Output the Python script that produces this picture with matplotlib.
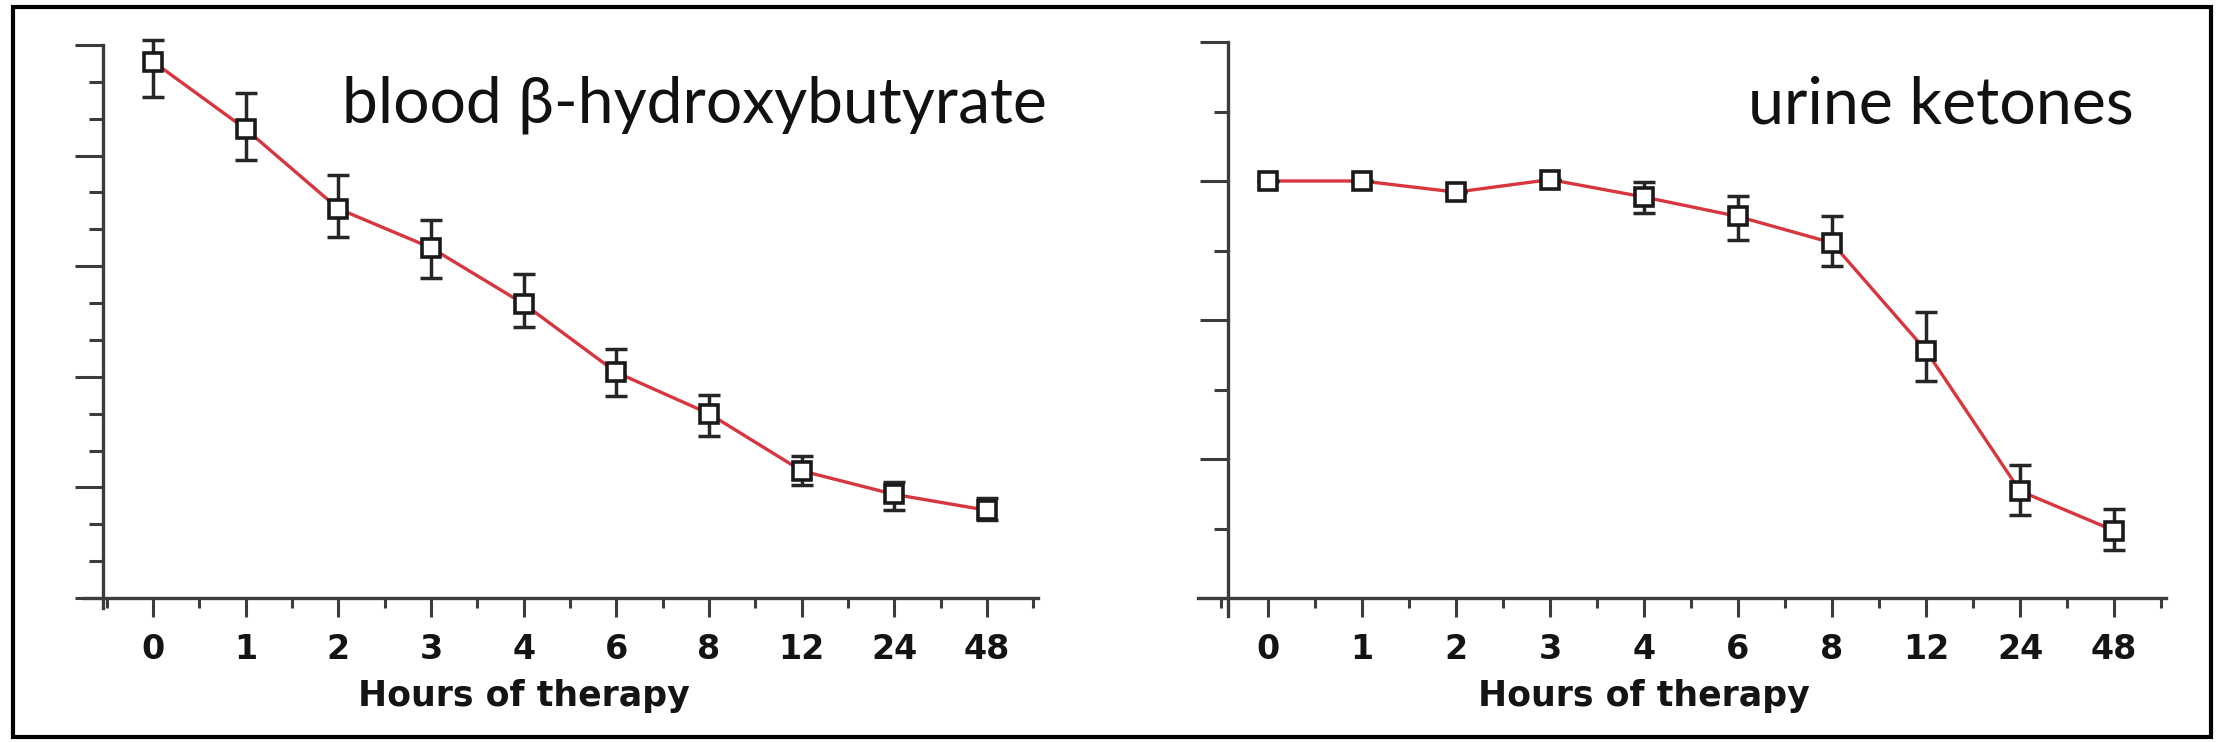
import matplotlib
matplotlib.use("Agg")
import matplotlib.pyplot as plt
from matplotlib.patches import Rectangle
from matplotlib.ticker import FixedLocator, MultipleLocator

# ---------------- data ----------------
hour_labels = ["0", "1", "2", "3", "4", "6", "8", "12", "24", "48"]
bhb_mean = [14.55, 12.72, 10.56, 9.50, 7.98, 6.12, 5.00, 3.45, 2.81, 2.38]
bhb_err_low = [0.97, 0.85, 0.77, 0.81, 0.64, 0.65, 0.60, 0.39, 0.43, 0.26]
bhb_err_high = [0.58, 0.99, 0.92, 0.76, 0.80, 0.64, 0.51, 0.41, 0.34, 0.32]
ket_mean = [6.00, 6.00, 5.84, 6.02, 5.77, 5.49, 5.11, 3.56, 1.54, 0.97]
ket_err_low = [0.0, 0.0, 0.0, 0.0, 0.23, 0.34, 0.34, 0.44, 0.35, 0.28]
ket_err_high = [0.0, 0.0, 0.0, 0.0, 0.22, 0.30, 0.38, 0.56, 0.37, 0.31]
titles = ["blood β-hydroxybutyrate", "urine ketones"]
xlabel = "Hours of therapy"

W, H = 2219, 743
fig = plt.figure(figsize=(W / 100, H / 100), dpi=100, facecolor="white")
renderer = fig.canvas.get_renderer()

def rect_from_px(x0, x1, ytop, ybot):
    return [x0 / W, (H - ybot) / H, (x1 - x0) / W, (ybot - ytop) / H]

AX_COL = "#3c3c3c"
RED = "#d8363f"
TITLE_FAMILY = ["Lato", "DejaVu Sans"]

panels = [
    dict(mean=bhb_mean, err=[bhb_err_low, bhb_err_high], ymax=15, ymaj=3,
         ylim=(-0.3, 15.6), px0=153, px9=987, py0=598, pytop=45, yaxis_x=-0.54,
         title=titles[0], title_left=342, title_right=1047),
    dict(mean=ket_mean, err=[ket_err_low, ket_err_high], ymax=8, ymaj=2,
         ylim=(-0.3, 8.3), px0=1268, px9=2114, py0=598, pytop=42, yaxis_x=-0.43,
         title=titles[1], title_left=1748, title_right=2134),
]

xlim = (-0.8, 9.6)
for p in panels:
    sx = (p["px9"] - p["px0"]) / 9.0
    sy = (p["py0"] - p["pytop"]) / p["ymax"]
    x0 = p["px0"] + xlim[0] * sx
    x1 = p["px0"] + xlim[1] * sx
    ytop = p["py0"] - p["ylim"][1] * sy
    ybot = p["py0"] - p["ylim"][0] * sy
    ax = fig.add_axes(rect_from_px(x0, x1, ytop, ybot))
    ax.set_xlim(*xlim)
    ax.set_ylim(*p["ylim"])
    ax.set_facecolor("none")

    xs = list(range(len(hour_labels)))
    ax.errorbar(xs, p["mean"], yerr=p["err"], fmt="none", ecolor="#262626",
                elinewidth=2.5, capsize=8, capthick=2.5, zorder=3)
    ax.plot(xs, p["mean"], color=RED, lw=2.4, zorder=2)
    ax.plot(xs, p["mean"], ls="none", marker="s", ms=13, mfc="white",
            mec="#1a1a1a", mew=2.6, zorder=4)

    # spines
    for s in ["top", "right"]:
        ax.spines[s].set_visible(False)
    ax.spines["left"].set_position(("data", p["yaxis_x"]))
    ax.spines["bottom"].set_position(("data", 0))
    ax.spines["left"].set_bounds(-0.26, p["ymax"])
    ax.spines["bottom"].set_bounds(-0.75, 9.55)
    for s in ["left", "bottom"]:
        ax.spines[s].set_color(AX_COL)
        ax.spines[s].set_linewidth(2.4)

    # ticks
    ax.xaxis.set_major_locator(FixedLocator(xs))
    ax.set_xticklabels(hour_labels)
    ax.xaxis.set_minor_locator(FixedLocator([i + 0.5 for i in range(-1, 10)]))
    ax.yaxis.set_major_locator(MultipleLocator(p["ymaj"]))
    ax.yaxis.set_minor_locator(MultipleLocator(1))
    ax.set_yticklabels([])
    ax.tick_params(axis="x", which="major", direction="out", length=14, width=2.2,
                   color=AX_COL, pad=11, labelsize=24)
    ax.tick_params(axis="x", which="minor", direction="out", length=7, width=2.2,
                   color=AX_COL)
    ax.tick_params(axis="y", which="major", direction="out", length=20, width=2.2,
                   color=AX_COL)
    ax.tick_params(axis="y", which="minor", direction="out", length=10, width=2.2,
                   color=AX_COL)
    for lab in ax.get_xticklabels():
        lab.set_fontweight("bold")
        lab.set_family("DejaVu Sans")
        lab.set_color("#141414")

    # x label
    ax.text(4.0, (ybot - 696) / (ybot - ytop), xlabel,
            transform=ax.get_xaxis_transform(), ha="center", va="center",
            fontsize=25, fontweight="bold", family="DejaVu Sans", color="#141414")

    # title, sized so its width matches the reference
    t = ax.text((p["title_right"] - x0) / (x1 - x0), (ybot - 123) / (ybot - ytop),
                p["title"], transform=ax.transAxes, ha="right", va="baseline",
                fontsize=44, family=TITLE_FAMILY, color="#111111")
    wpx = t.get_window_extent(renderer=renderer).width
    target = p["title_right"] - p["title_left"]
    t.set_fontsize(44 * target / wpx)

# frame around the whole picture
bx0, by0, bx1, by1 = 13, 7, 2211, 737
fig.add_artist(Rectangle((bx0 / W, (H - by1) / H), (bx1 - bx0) / W, (by1 - by0) / H,
                         transform=fig.transFigure, fill=False, ec="black", lw=3.0))

fig.savefig("out.png", dpi=100, facecolor="white")
